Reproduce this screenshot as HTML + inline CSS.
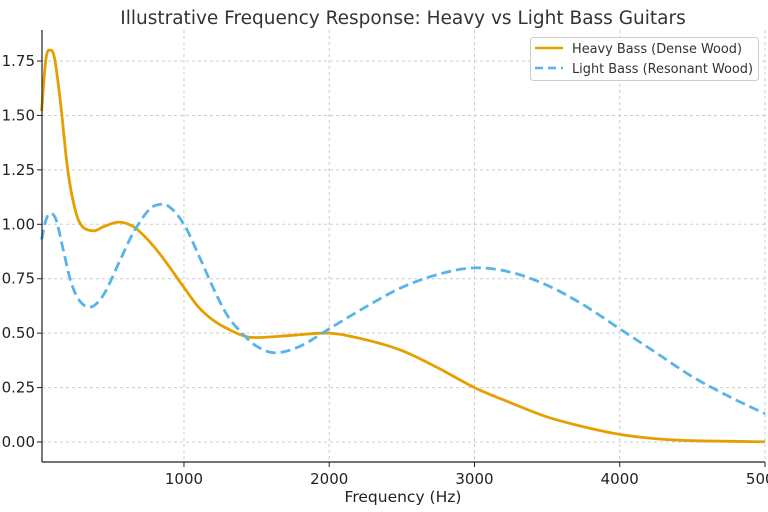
<!DOCTYPE html>
<html><head><meta charset="utf-8"><style>
body{margin:0;background:#fff}
svg{display:block;font-family:"DejaVu Sans","Liberation Sans",sans-serif}
</style></head><body>
<svg id="chart" width="768" height="512" viewBox="0 0 768 512">
<rect width="768" height="512" fill="#fff"/>
<g id="grid"></g>
<g id="series"></g>
<g id="axes"></g>
<text x="403" y="24" text-anchor="middle" font-size="18.5" fill="#333">Illustrative Frequency Response: Heavy vs Light Bass Guitars</text>
<text x="403" y="502" text-anchor="middle" font-size="15.5" fill="#222">Frequency (Hz)</text>
<g>
<rect x="530.5" y="37.5" width="228" height="43" rx="3" fill="#fff" fill-opacity="0.85" stroke="#ccc"/>
<g>
<line x1="535" y1="48" x2="563" y2="48" stroke="#E69F00" stroke-width="2.5"/>
<text x="572" y="53" font-size="13.5" fill="#333" textLength="170" lengthAdjust="spacingAndGlyphs">Heavy Bass (Dense Wood)</text></g>
<g>
<line x1="535" y1="68" x2="563" y2="68" stroke="#56B4E9" stroke-width="2.5" stroke-dasharray="8,5"/>
<text x="572" y="73" font-size="13.5" fill="#333" textLength="181" lengthAdjust="spacingAndGlyphs">Light Bass (Resonant Wood)</text></g>
</g>
</svg>
<script>
const xTicks=[1000,2000,3000,4000,5000];
const yTicks=[0,0.25,0.5,0.75,1.0,1.25,1.5,1.75];
const heavyFreq=[20,50,80,110,150,200,250,300,380,450,550,650,750,850,1000,1100,1200,1300,1400,1500,1750,2000,2250,2500,2750,3000,3250,3500,3750,4000,4250,4500,5000];
const heavyAmp=[1.52,1.76,1.80,1.76,1.56,1.25,1.07,0.99,0.97,0.99,1.01,0.99,0.93,0.85,0.71,0.62,0.56,0.52,0.49,0.48,0.49,0.50,0.47,0.42,0.34,0.25,0.18,0.115,0.07,0.035,0.015,0.006,0.001];
const lightFreq=[20,50,80,120,170,220,280,360,450,550,650,750,820,900,1000,1100,1200,1300,1400,1500,1630,1800,2000,2250,2500,2750,3000,3250,3500,3750,4000,4250,4500,4750,5000];
const lightAmp=[0.93,1.02,1.05,1.02,0.88,0.74,0.65,0.62,0.68,0.82,0.96,1.06,1.09,1.08,1.0,0.86,0.71,0.58,0.5,0.44,0.41,0.44,0.52,0.62,0.71,0.77,0.80,0.78,0.72,0.63,0.52,0.41,0.30,0.21,0.13];
const L=42,R=765,T=30,B=462;
const X=v=>38.7+v*0.14526;
const Y=v=>442-v*217.7;
const NS="http://www.w3.org/2000/svg";
function mk(tag,at,parent){const e=document.createElementNS(NS,tag);for(const k in at)e.setAttribute(k,at[k]);parent.appendChild(e);return e;}
const grid=document.getElementById('grid'),axes=document.getElementById('axes'),series=document.getElementById('series');
xTicks.forEach(t=>{const x=X(t);
 const g=mk('line',{x1:x,x2:x,y1:T,y2:B,stroke:'#ccc','stroke-dasharray':'3,3'},grid);
 
 
 mk('line',{x1:x,x2:x,y1:B,y2:B+5,stroke:'#222'},axes);
 const tx=mk('text',{x:x,y:B+22,'text-anchor':'middle','font-size':15,fill:'#222'},axes);tx.textContent=t;
 
 });
yTicks.forEach(t=>{const y=Y(t);
 const g=mk('line',{x1:L,x2:R,y1:y,y2:y,stroke:'#ccc','stroke-dasharray':'3,3'},grid);
 
 
 mk('line',{x1:L-5,x2:L,y1:y,y2:y,stroke:'#222'},axes);
 const tx=mk('text',{x:L-7,y:y+5,'text-anchor':'end','font-size':15,fill:'#222'},axes);tx.textContent=t.toFixed(2);
 
 });
mk('line',{x1:L,x2:L,y1:T,y2:B,stroke:'#222','stroke-width':1.2},axes);
mk('line',{x1:L,x2:R,y1:B,y2:B,stroke:'#222','stroke-width':1.2},axes);
function path(fs,as){const p=fs.map((f,i)=>[X(f),Y(as[i])]);let d='M'+p[0][0]+','+p[0][1];
 for(let i=0;i<p.length-1;i++){const p0=p[Math.max(i-1,0)],p1=p[i],p2=p[i+1],p3=p[Math.min(i+2,p.length-1)];
  d+=` C${p1[0]+(p2[0]-p0[0])/6},${p1[1]+(p2[1]-p0[1])/6} ${p2[0]-(p3[0]-p1[0])/6},${p2[1]-(p3[1]-p1[1])/6} ${p2[0]},${p2[1]}`;}
 return d;}
const h=mk('path',{d:path(heavyFreq,heavyAmp),fill:'none',stroke:'#E69F00','stroke-width':2.8},series);


const l=mk('path',{d:path(lightFreq,lightAmp),fill:'none',stroke:'#56B4E9','stroke-width':2.8,'stroke-dasharray':'10,5'},series);


</script>
</body></html>
